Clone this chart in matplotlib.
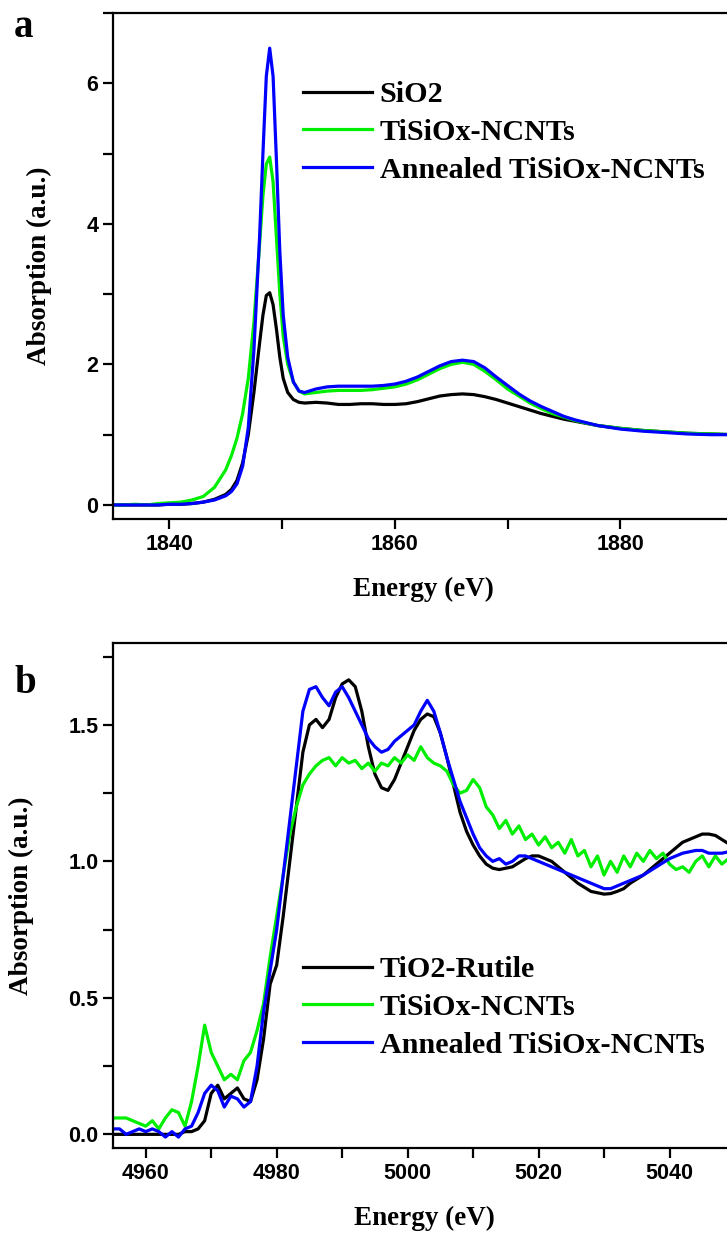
import matplotlib
matplotlib.use("Agg")
import matplotlib.pyplot as plt
from matplotlib.ticker import MultipleLocator

# ---------------- data: panel a (Si K-edge) ----------------
energy_a = [1835, 1836, 1837, 1838, 1839, 1840, 1841, 1842, 1843, 1844, 1845, 1845.5,
            1846, 1846.5, 1847, 1847.5, 1848, 1848.3, 1848.6, 1848.9, 1849.2, 1849.5,
            1849.8, 1850.1, 1850.5, 1851, 1851.5, 1852, 1853, 1854, 1855, 1856, 1857,
            1858, 1859, 1860, 1861, 1862, 1863, 1864, 1865, 1866, 1867, 1868, 1869,
            1870, 1871, 1872, 1873, 1874, 1875, 1876, 1878, 1880, 1882, 1884, 1886,
            1888, 1890]
sio2 = [0.0, 0.0, 0.0, 0.0, 0.0, 0.01, 0.01, 0.02, 0.04, 0.08, 0.15, 0.22,
        0.35, 0.6, 1.0, 1.6, 2.3, 2.7, 2.98, 3.02, 2.85, 2.5,
        2.1, 1.8, 1.6, 1.5, 1.46, 1.45, 1.46, 1.45, 1.43, 1.43, 1.44,
        1.44, 1.43, 1.43, 1.44, 1.47, 1.51, 1.55, 1.57, 1.58, 1.57, 1.54, 1.5,
        1.45, 1.4, 1.35, 1.3, 1.26, 1.22, 1.19, 1.13, 1.09, 1.06, 1.04, 1.02,
        1.01, 1.0]
tisiox_a = [0.0, 0.0, 0.01, 0.0, 0.02, 0.03, 0.04, 0.07, 0.12, 0.25, 0.5, 0.7,
            0.95, 1.3, 1.8, 2.6, 3.7, 4.4, 4.85, 4.95, 4.6, 3.8,
            3.0, 2.4, 2.0, 1.75, 1.62, 1.58, 1.6, 1.62, 1.63, 1.63, 1.63,
            1.64, 1.66, 1.68, 1.72, 1.78, 1.86, 1.94, 2.0, 2.03, 2.0, 1.9, 1.78,
            1.65, 1.55, 1.45, 1.37, 1.3, 1.25, 1.2, 1.13, 1.09, 1.06, 1.04, 1.02,
            1.01, 1.0]
annealed_a = [0.0, 0.0, 0.0, 0.0, 0.0, 0.01, 0.01, 0.02, 0.04, 0.07, 0.13, 0.19,
              0.3, 0.55, 1.1, 2.2, 3.8, 5.0, 6.1, 6.5, 6.1, 4.9,
              3.6, 2.7, 2.1, 1.75, 1.62, 1.6, 1.65, 1.68, 1.69, 1.69, 1.69,
              1.69, 1.7, 1.72, 1.76, 1.82, 1.9, 1.98, 2.04, 2.06, 2.04, 1.95, 1.82,
              1.7, 1.58, 1.48, 1.4, 1.33, 1.26, 1.21, 1.13, 1.08, 1.05, 1.03, 1.01,
              1.0, 1.0]

# ---------------- data: panel b (Ti K-edge) ----------------
energy_b = [4955, 4956, 4957, 4958, 4959, 4960, 4961, 4962, 4963, 4964, 4965, 4966,
            4967, 4968, 4969, 4970, 4971, 4972, 4973, 4974, 4975, 4976, 4977, 4978,
            4979, 4980, 4981, 4982, 4983, 4984, 4985, 4986, 4987, 4988, 4989, 4990,
            4991, 4992, 4993, 4994, 4995, 4996, 4997, 4998, 4999, 5000, 5001, 5002,
            5003, 5004, 5005, 5006, 5007, 5008, 5009, 5010, 5011, 5012, 5013, 5014,
            5015, 5016, 5017, 5018, 5019, 5020, 5021, 5022, 5023, 5024, 5025, 5026,
            5027, 5028, 5029, 5030, 5031, 5032, 5033, 5034, 5035, 5036, 5037, 5038,
            5039, 5040, 5041, 5042, 5043, 5044, 5045, 5046, 5047, 5048, 5049, 5050]
rutile = [0.0, 0.0, 0.0, 0.0, 0.0, 0.0, 0.0, 0.0, 0.0, 0.0, 0.0, 0.01,
          0.01, 0.02, 0.05, 0.15, 0.18, 0.13, 0.15, 0.17, 0.13, 0.12, 0.2, 0.35,
          0.55, 0.62, 0.8, 1.0, 1.2, 1.4, 1.5, 1.52, 1.49, 1.52, 1.6, 1.65,
          1.665, 1.64, 1.55, 1.42, 1.32, 1.27, 1.26, 1.3, 1.36, 1.42, 1.48, 1.52,
          1.54, 1.53, 1.47, 1.38, 1.28, 1.18, 1.11, 1.06, 1.02, 0.99, 0.975, 0.97,
          0.975, 0.98, 0.995, 1.01, 1.02, 1.02, 1.01, 1.0, 0.98, 0.96, 0.94, 0.92,
          0.905, 0.89, 0.885, 0.88, 0.882, 0.89, 0.9, 0.92, 0.935, 0.95, 0.97, 0.99,
          1.01, 1.03, 1.05, 1.07, 1.08, 1.09, 1.1, 1.1, 1.095, 1.08, 1.065, 1.05]
tisiox_b = [0.06, 0.06, 0.06, 0.05, 0.04, 0.03, 0.05, 0.02, 0.06, 0.09, 0.08, 0.03,
            0.12, 0.25, 0.4, 0.3, 0.25, 0.2, 0.22, 0.2, 0.27, 0.3, 0.38, 0.48,
            0.65, 0.8, 0.95, 1.1, 1.2, 1.28, 1.32, 1.35, 1.37, 1.38, 1.35, 1.38,
            1.36, 1.37, 1.34, 1.36, 1.33, 1.36, 1.35, 1.38, 1.36, 1.39, 1.37, 1.42,
            1.38, 1.36, 1.35, 1.33, 1.28, 1.25, 1.26, 1.3, 1.27, 1.2, 1.17, 1.12,
            1.15, 1.1, 1.13, 1.08, 1.1, 1.06, 1.09, 1.05, 1.07, 1.03, 1.08, 1.02,
            1.04, 0.98, 1.02, 0.95, 1.0, 0.96, 1.02, 0.98, 1.03, 1.0, 1.04, 1.01,
            1.03, 0.99, 0.97, 0.98, 0.96, 1.0, 1.02, 0.98, 1.02, 0.99, 1.01, 1.0]
annealed_b = [0.02, 0.02, 0.0, 0.01, 0.02, 0.01, 0.02, 0.01, -0.01, 0.01, -0.01, 0.02,
              0.03, 0.08, 0.15, 0.18, 0.16, 0.1, 0.14, 0.13, 0.1, 0.12, 0.25, 0.45,
              0.6, 0.75, 0.95, 1.15, 1.35, 1.55, 1.63, 1.64, 1.6, 1.57, 1.62, 1.64,
              1.6, 1.55, 1.5, 1.45, 1.42, 1.4, 1.41, 1.44, 1.46, 1.48, 1.5, 1.55,
              1.59, 1.55, 1.47, 1.38, 1.3, 1.22, 1.16, 1.1, 1.05, 1.02, 1.0, 1.01,
              0.99, 1.0, 1.02, 1.02, 1.01, 1.0, 0.99, 0.98, 0.97, 0.96, 0.95, 0.94,
              0.93, 0.92, 0.91, 0.9, 0.9, 0.91, 0.92, 0.93, 0.94, 0.95, 0.965, 0.98,
              0.995, 1.01, 1.02, 1.03, 1.035, 1.04, 1.04, 1.03, 1.03, 1.03, 1.035, 1.04]

labels_a = ["SiO2", "TiSiOx-NCNTs", "Annealed TiSiOx-NCNTs"]
labels_b = ["TiO2-Rutile", "TiSiOx-NCNTs", "Annealed TiSiOx-NCNTs"]
colors = ["#000000", "#00ee00", "#0000ff"]
xticks_a = [1840, 1860, 1880]
yticks_a = [0, 2, 4, 6]
xticks_b = [4960, 4980, 5000, 5020, 5040]
yticks_b = [0.0, 0.5, 1.0, 1.5]

W, H = 727, 1234
fig = plt.figure(figsize=(W / 100, H / 100), dpi=100)

serif = ["Liberation Serif", "DejaVu Serif"]
sans = ["Liberation Sans", "DejaVu Sans"]


def px_axes(l, t, r, b):
    return fig.add_axes([l / W, 1 - b / H, (r - l) / W, (b - t) / H])


ax_a = px_axes(113, 13, 733, 519)
ax_b = px_axes(113, 643, 735, 1148)


def style(ax, xlim, ylim, xt, yt, xminor, yminor, fmt):
    ax.set_xlim(*xlim)
    ax.set_ylim(*ylim)
    ax.set_xticks(xt)
    ax.set_yticks(yt)
    ax.set_yticklabels([fmt.format(v) for v in yt])
    ax.xaxis.set_minor_locator(MultipleLocator(xminor))
    ax.yaxis.set_minor_locator(MultipleLocator(yminor))
    for s in ["left", "bottom", "top"]:
        ax.spines[s].set_linewidth(1.6)
    ax.spines["right"].set_visible(False)
    ax.tick_params(which="both", direction="out", length=7, width=1.6,
                   top=False, right=False, pad=3.5)
    for lab in ax.get_xticklabels() + ax.get_yticklabels():
        lab.set_fontfamily(sans)
        lab.set_fontweight("bold")
        lab.set_fontsize(15.5)
    ax.set_xlabel("Energy (eV)", fontfamily=serif, fontweight="bold", fontsize=19.5,
                  labelpad=16)
    ax.set_ylabel("Absorption (a.u.)", fontfamily=serif, fontweight="bold",
                  fontsize=19.5, labelpad=25)


for y, c, lab in zip([sio2, tisiox_a, annealed_a], colors, labels_a):
    ax_a.plot(energy_a, y, color=c, lw=2.3, label=lab)
style(ax_a, (1835, 1890), (-0.2, 7.0), xticks_a, yticks_a, 10, 1, "{:g}")

for y, c, lab in zip([rutile, tisiox_b, annealed_b], colors, labels_b):
    ax_b.plot(energy_b, y, color=c, lw=2.3, label=lab)
style(ax_b, (4955, 5050), (-0.05, 1.8), xticks_b, yticks_b, 10, 0.25, "{:.1f}")

leg_kw = dict(frameon=False, loc="upper left", handlelength=2.3, handletextpad=0.25,
              labelspacing=0.36, borderpad=0, borderaxespad=0,
              prop={"family": serif, "weight": "bold", "size": 21.7})
ax_a.legend(bbox_to_anchor=(303 / W, 1 - 81 / H), bbox_transform=fig.transFigure, **leg_kw)
ax_b.legend(bbox_to_anchor=(303 / W, 1 - 956 / H), bbox_transform=fig.transFigure, **leg_kw)

fig.text(23 / W, 1 - 37 / H, "a", fontfamily=serif, fontweight="bold", fontsize=28,
         ha="center", va="baseline")
fig.text(25 / W, 1 - 693 / H, "b", fontfamily=serif, fontweight="bold", fontsize=28,
         ha="center", va="baseline")

fig.savefig("out.png", dpi=100)
